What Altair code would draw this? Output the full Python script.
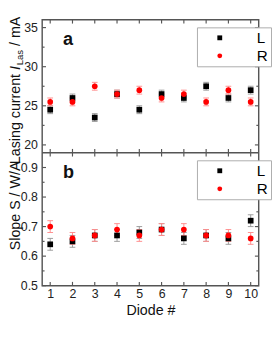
import altair as alt
import pandas as pd

# ---------------- data ----------------
diodes = [1, 2, 3, 4, 5, 6, 7, 8, 9, 10]
series_names = ["L", "R"]

ilas_L = [24.5, 26.0, 23.5, 26.5, 24.5, 26.5, 26.0, 27.5, 26.0, 27.0]
ilas_R = [25.5, 25.5, 27.5, 26.5, 27.0, 26.0, 26.5, 25.5, 27.0, 25.5]
ilas_err_L = [0.5, 0.5, 0.5, 0.5, 0.5, 0.5, 0.5, 0.5, 0.5, 0.5]
ilas_err_R = [0.5, 0.5, 0.5, 0.5, 0.5, 0.5, 0.5, 0.5, 0.5, 0.5]

slope_L = [0.64, 0.65, 0.67, 0.67, 0.68, 0.69, 0.66, 0.67, 0.66, 0.72]
slope_R = [0.70, 0.66, 0.67, 0.69, 0.67, 0.69, 0.69, 0.67, 0.67, 0.66]
slope_err_L = [0.02, 0.02, 0.02, 0.02, 0.02, 0.02, 0.02, 0.02, 0.02, 0.02]
slope_err_R = [0.02, 0.02, 0.02, 0.02, 0.02, 0.02, 0.02, 0.02, 0.02, 0.02]

x_tick_values = [1, 2, 3, 4, 5, 6, 7, 8, 9, 10]
ilas_major = [20, 25, 30, 35]
ilas_minor = [22.5, 27.5, 32.5]
slope_major = [0.5, 0.6, 0.7, 0.8, 0.9]
slope_minor = [0.55, 0.65, 0.75, 0.85]

# ---------------- style ----------------
FONT = "Liberation Sans"
FRAME = "#555555"
W, H = 228, 140          # plot width, height of ONE panel
ERR_COLORS = {"L": "#9a9a9a", "R": "#ff8c8c"}


def make_df(vals_L, vals_R, err_L, err_R):
    rows = []
    for s, vals, errs in (("L", vals_L, err_L), ("R", vals_R, err_R)):
        for d, v, e in zip(diodes, vals, errs):
            rows.append({"diode": d, "series": s, "value": v, "err": e})
    return pd.DataFrame(rows)


xscale = alt.Scale(domain=[0.64, 10.36], nice=False, zero=False)
x_axis = alt.Axis(
    values=x_tick_values,
    format="d",
    ticks=False,
    tickSize=0,
    domain=False,
    grid=False,
    labelPadding=2,
    labelFontSize=13,
    title="Diode #",
    titleFontSize=15,
    titleFontWeight="normal",
    titlePadding=3,
)


def X(field):
    return alt.X(field, scale=xscale, axis=x_axis)


one = alt.Data(values=[{"k": 0}])


def panel_layers(df, ydomain, yrange, major, minor, ylabel_fmt):
    yscale = alt.Scale(domain=ydomain, range=yrange, nice=False, zero=False)
    y_axis = alt.Axis(
        orient="left",
        values=major,
        format=ylabel_fmt,
        ticks=False,
        tickSize=0,
        domain=False,
        grid=False,
        labelPadding=5,
        labelFontSize=13,
        title=None,
    )

    def Y(field, axis=None):
        return alt.Y(field, scale=yscale, axis=axis)

    base = alt.Chart(df).transform_calculate(
        lo="datum.value - datum.err", hi="datum.value + datum.err"
    )
    layers = []
    for s in series_names:
        sub = base.transform_filter(alt.datum.series == s)
        col = ERR_COLORS[s]
        layers.append(
            sub.mark_rule(color=col, strokeWidth=1).encode(
                x=X("diode:Q"), y=Y("lo:Q"), y2="hi:Q",
            )
        )
        for end in ("lo", "hi"):
            layers.append(
                sub.mark_rule(color=col, strokeWidth=1, xOffset=-3, x2Offset=3).encode(
                    x=X("diode:Q"), x2="diode:Q", y=Y(f"{end}:Q"),
                )
            )
    legend = alt.Legend(
        title=None,
        orient="none",
        legendX=W - 65,
        legendY=yrange[1] + 8,
        strokeColor="#aaaaaa",
        fillColor="white",
        padding=3,
        symbolSize=26,
        symbolOffset=13,
        labelOffset=31,
        labelFontSize=16,
        labelFont=FONT,
        labelColor="black",
        rowPadding=3,
        symbolStrokeWidth=0,
    )
    layers.append(
        base.mark_point(filled=True, size=36, opacity=1).encode(
            x=X("diode:Q"),
            y=Y("value:Q", y_axis),
            color=alt.Color(
                "series:N",
                scale=alt.Scale(domain=series_names, range=["black", "red"]),
                legend=legend,
            ),
            shape=alt.Shape(
                "series:N",
                scale=alt.Scale(domain=series_names, range=["square", "circle"]),
                legend=legend,
            ),
        )
    )
    # inward y ticks (left and right)
    for vals, ln in ((major, 4), (minor, 2.5)):
        dft = pd.DataFrame({"v": vals})
        layers.append(
            alt.Chart(dft).mark_rule(color=FRAME, strokeWidth=1.2).encode(
                y=Y("v:Q"), x=alt.value(0), x2=alt.value(ln),
            )
        )
        layers.append(
            alt.Chart(dft).mark_rule(color=FRAME, strokeWidth=1.2).encode(
                y=Y("v:Q"), x=alt.value(W), x2=alt.value(W - ln),
            )
        )
    # inward x ticks at the top and bottom edge of this panel
    xt = pd.DataFrame({"v": x_tick_values})
    for y_a, y_b in ((yrange[0], yrange[0] - 4), (yrange[1], yrange[1] + 4)):
        layers.append(
            alt.Chart(xt).mark_rule(color=FRAME, strokeWidth=1.2).encode(
                x=X("v:Q"), y=alt.value(y_a), y2=alt.value(y_b),
            )
        )
    return layers


def text_layer(text, x, y, size, weight="normal", style="normal", angle=0, align="left"):
    kw = dict(
        text=text, font=FONT, fontSize=size, fontWeight=weight, fontStyle=style,
        align=align, baseline="alphabetic", color="#111111",
    )
    if angle:
        kw["angle"] = angle
    return alt.Chart(one).mark_text(**kw).encode(x=alt.value(x), y=alt.value(y))


df_ilas = make_df(ilas_L, ilas_R, ilas_err_L, ilas_err_R)
df_slope = make_df(slope_L, slope_R, slope_err_L, slope_err_R)

layers = []
layers += panel_layers(df_ilas, [19, 36], [H, 0], ilas_major, ilas_minor, "d")
layers += panel_layers(df_slope, [0.5, 0.95], [2 * H, H], slope_major, slope_minor, ".1f")

# divider between the panels
layers.append(
    alt.Chart(one).mark_rule(color=FRAME, strokeWidth=1.5).encode(
        x=alt.value(0), x2=alt.value(W), y=alt.value(H)
    )
)

# panel letters
layers.append(text_layer("a", 22, 27, 19, weight="bold"))
layers.append(text_layer("b", 22, H + 27, 19, weight="bold"))

# rotated y titles
TX = -23
fs = 15
w1 = 6.614 * fs          # "Lasing current "
wI = 0.278 * fs + 0.8    # italic I
wsub = 1.612 * 10        # "Las" at 10px
wsp = 0.278 * fs
y0 = 152
layers.append(text_layer("Lasing current", TX, y0, fs, angle=270))
layers.append(text_layer("I", TX, y0 - w1, fs, style="italic", angle=270))
layers.append(text_layer("Las", TX + 3, y0 - w1 - wI, 10, angle=270))
layers.append(text_layer("/ mA", TX, y0 - w1 - wI - wsub - wsp, fs, angle=270))
layers.append(text_layer("Slope S / W/A", TX, H + 56, fs, angle=270, align="center"))

chart = (
    alt.layer(*layers)
    .resolve_scale(y="independent", color="independent", shape="independent")
    .resolve_legend(color="independent", shape="independent")
    .properties(width=W, height=2 * H, padding=0, background="white")
    .configure_view(stroke=FRAME, strokeWidth=1.5)
    .configure_axis(labelFont=FONT, titleFont=FONT, labelColor="#222222", titleColor="#111111")
)

chart.save("out.html", embed_options={"renderer": "svg", "actions": False})
